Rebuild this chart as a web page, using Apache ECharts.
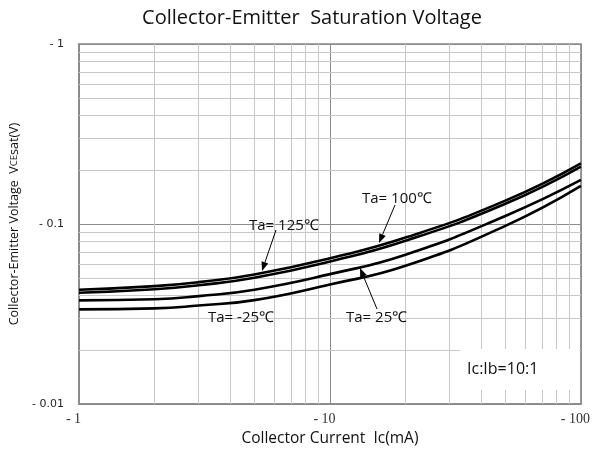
<!DOCTYPE html>
<html>
<head>
<meta charset="utf-8">
<script src="https://cdn.jsdelivr.net/npm/echarts@6/dist/echarts.min.js"></script>
<style>
  html, body { margin: 0; padding: 0; background: #fff; }
  #chart { width: 593px; height: 452px; }
</style>
</head>
<body>
<div id="chart"></div>
<script>
// collector current Ic (mA)
var currents = [1, 2, 3, 5, 10, 20, 50, 100];
// Vce(sat) in V for each ambient temperature
var vce125 = [0.0432, 0.0452, 0.0476, 0.0525, 0.0646, 0.0841, 0.1349, 0.2173];
var vce100 = [0.0415, 0.0434, 0.0457, 0.0503, 0.0619, 0.0807, 0.1296, 0.2085];
var vce25 = [0.0377, 0.0382, 0.0398, 0.0432, 0.0527, 0.0676, 0.1109, 0.1758];
var vceM25 = [0.0336, 0.0340, 0.0353, 0.0378, 0.0462, 0.0586, 0.0977, 0.1629];
var seriesNames = ['Ta=125℃', 'Ta=100℃', 'Ta=25℃', 'Ta=-25℃'];

var myChart = echarts.init(document.getElementById('chart'));

function pairs(xs, ys) {
    var out = [];
    for (var i = 0; i < xs.length; i++) out.push([xs[i], ys[i]]);
    return out;
}

// minor grid values 2..9 in each decade
var xMinor = [], yMinor = [];
[1, 10].forEach(function (d) {
    for (var k = 2; k <= 9; k++) xMinor.push({ xAxis: k * d });
});
[0.01, 0.1].forEach(function (d) {
    for (var k = 2; k <= 9; k++) yMinor.push({ yAxis: +(k * d).toFixed(3) });
});

// small arrow: line plus filled head at (x2, y2)
function arrow(x1, y1, x2, y2) {
    var dx = x2 - x1, dy = y2 - y1;
    var len = Math.sqrt(dx * dx + dy * dy);
    var ux = dx / len, uy = dy / len;
    var hl = 9, hw = 3.5;
    var bx = x2 - ux * hl, by = y2 - uy * hl;
    return [{
        type: 'line', z: 10, silent: true,
        shape: { x1: x1, y1: y1, x2: bx, y2: by },
        style: { stroke: '#000', lineWidth: 1 }
    }, {
        type: 'polygon', z: 10, silent: true,
        shape: { points: [[x2, y2], [bx - uy * hw, by + ux * hw], [bx + uy * hw, by - ux * hw]] },
        style: { fill: '#000' }
    }];
}

function label(text, x, y, size, align) {
    return {
        type: 'text', z: 10, silent: true, x: x, y: y,
        style: { text: text, font: (size || 15) + 'px "Open Sans"', fill: '#111', align: align || 'left', verticalAlign: 'middle' }
    };
}

var graphics = [{
    type: 'rect', z: 5, silent: true,
    shape: { x: 460, y: 349, width: 119, height: 41 },
    style: { fill: '#fff' }
},
    label('Collector-Emitter  Saturation Voltage', 312, 18, 20, 'center'),
    label('Ta= 125℃', 249, 226),
    label('Ta= 100℃', 362, 199),
    label('Ta= -25℃', 208, 318),
    label('Ta= 25℃', 346, 318),
    label('Ic:Ib=10:1', 467, 369, 16)
].concat(arrow(276, 230, 262, 271))
 .concat(arrow(395, 205, 379, 243))
 .concat(arrow(377, 309, 360, 268));

var curves = [vce125, vce100, vce25, vceM25].map(function (vals, i) {
    return {
        name: seriesNames[i],
        type: 'line',
        z: 4,
        smooth: 0.5,
        symbol: 'none',
        silent: true,
        lineStyle: { color: '#000', width: 2.6 },
        data: pairs(currents, vals)
    };
});

var option = {
    animation: false,
    grid: {
        left: 79, right: 11, top: 44, bottom: 46,
        show: true, borderColor: '#888', borderWidth: 1.5
    },
    xAxis: {
        type: 'log',
        logBase: 10,
        min: 1,
        max: 100,
        name: 'Collector Current  Ic(mA)',
        nameLocation: 'middle',
        nameGap: 26,
        nameTextStyle: { fontFamily: 'Open Sans', fontSize: 15.5, color: '#111', verticalAlign: 'top' },
        axisTick: { show: false },
        axisLine: { lineStyle: { color: '#888', width: 1.5 } },
        splitLine: { show: true, lineStyle: { color: '#8c8c8c', width: 1 } },
        axisLabel: {
            formatter: function (v) { return '- ' + v; },
            fontFamily: 'Liberation Serif', fontSize: 14, color: '#333',
            margin: 8, padding: [0, 11, 0, 0]
        }
    },
    yAxis: {
        type: 'log',
        logBase: 10,
        min: 0.01,
        max: 1,
        name: 'Collector-Emitter Voltage  V{s|CE}sat(V)',
        nameLocation: 'middle',
        nameGap: 57,
        nameTextStyle: {
            fontFamily: 'Open Sans', fontSize: 12.5, color: '#111',
            rich: { s: { fontFamily: 'Open Sans', fontSize: 9.5, color: '#111' } }
        },
        axisTick: { show: false },
        axisLine: { lineStyle: { color: '#888', width: 1.5 } },
        splitLine: { show: true, lineStyle: { color: '#8c8c8c', width: 1 } },
        axisLabel: {
            formatter: function (v) { return '- ' + v; },
            fontFamily: 'DejaVu Sans', fontSize: 11, color: '#222',
            margin: 15
        }
    },
    series: [{
        name: 'grid',
        type: 'line',
        z: 1,
        data: [],
        silent: true,
        markLine: {
            z: 1,
            silent: true,
            symbol: 'none',
            animation: false,
            label: { show: false },
            emphasis: { disabled: true },
            lineStyle: { color: '#c8c8c8', width: 1, type: 'solid' },
            data: xMinor.concat(yMinor)
        }
    }].concat(curves),
    graphic: graphics
};

myChart.setOption(option);
window.addEventListener('resize', function () {
    myChart.resize();
});
</script>
</body>
</html>
